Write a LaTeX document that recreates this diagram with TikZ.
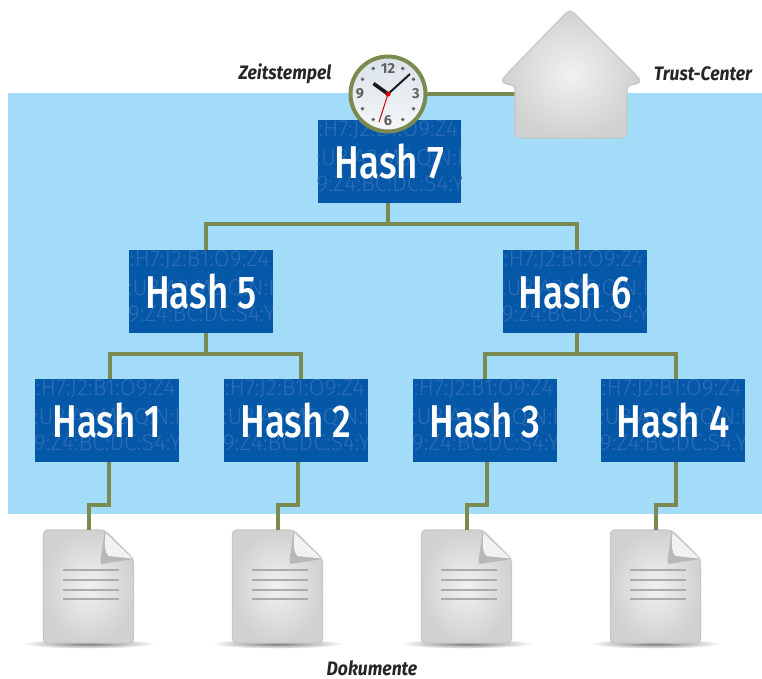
\documentclass[tikz,border=0pt]{standalone}
\usepackage{fontspec}
\usetikzlibrary{calc}
\setmainfont{Fira Sans}
\newfontfamily\hashfont[FakeStretch=0.8,UprightFont=*,BoldFont=* Medium]{Fira Sans}
\newfontfamily\labfont[FakeStretch=0.9]{Fira Sans}
\newfontfamily\bgfont[UprightFont=* Light]{Fira Sans}
\newfontfamily\numfont{Fira Sans}
\definecolor{hashblue}{HTML}{0557A8}
\definecolor{bgtext}{HTML}{2E6DB4}
\definecolor{sky}{HTML}{A3DCF8}
\definecolor{linkgreen}{HTML}{7B8A50}
\definecolor{iconedge}{HTML}{C6C7C7}
\definecolor{iconlight}{HTML}{F0F1F1}
\definecolor{icondark}{HTML}{D0D1D1}
\definecolor{docline}{HTML}{A9ABB0}
\definecolor{facetop}{HTML}{D9E2EA}
\definecolor{facebot}{HTML}{F6F7F8}
\tikzset{
  hashbox/.style={fill=hashblue,minimum width=143.5pt,minimum height=83pt,inner sep=0pt,text=white,
    font=\hashfont\bfseries\fontsize{46}{46}\selectfont},
  bgline/.style={text=bgtext,inner sep=0pt,anchor=west,font=\bgfont\fontsize{23}{23}\selectfont},
  link/.style={draw=linkgreen,line width=4pt},
  caption/.style={inner sep=0pt,font=\labfont\bfseries\itshape\fontsize{19.5}{19.5}\selectfont,text=black!85},
  icon/.style={draw=iconedge,line width=1.2pt,inner color=iconlight,outer color=icondark},
  clocknum/.style={inner sep=0pt,text=black!62,font=\numfont\bfseries\fontsize{14.5}{14.5}\selectfont},
}
\newcommand\hashnode[4]{%
  \node[hashbox,path picture={
    \coordinate (tl) at (path picture bounding box.north west);
    \node[bgline] at ([xshift=-1.5pt,yshift=-10pt]tl) {:H7:J2:B1:O9:Z4};
    \node[bgline] at ([xshift=-1.5pt,yshift=-39pt]tl) {:U8:A2:M5:Q:N:I};
    \node[bgline] at ([xshift=-1.5pt,yshift=-64pt]tl) {9:Z4:BC:DC:S4:Y};
  }] (#1) at (#2,#3) {#4};}
\newcommand\docicon[2]{%
  \begin{scope}[shift={(#2,0)}]
    \shade[inner color=black!55,outer color=white,shading=radial] (45,643.5) ellipse [x radius=66,y radius=5];
    \path[icon,rounded corners=4pt] (0,530) -- (61,530) -- (90,559) -- (90,643) -- (0,643) -- cycle;
    \fill[black!28] (61,532) -- (57,561) -- (58,564) -- (90,559) -- cycle;
    \fill[white!95!black] (62,533) .. controls (61,545) and (61,552) .. (65,556) -- (89,558.5) -- cycle;
    \foreach \yy in {570,579.5,589.5,599} \fill[docline] (19,\yy-1) rectangle (75,\yy+1);
    \coordinate (#1) at (45,530);
  \end{scope}}
\begin{document}
\begin{tikzpicture}[x=1pt,y=-1pt]
\useasboundingbox (0,0) rectangle (762,678);
\fill[white] (0,0) rectangle (762,678);
\fill[sky] (8,93) rectangle (762,514);

% icons
\docicon{d1}{43.5}
\docicon{d2}{232.5}
\docicon{d3}{421.5}
\docicon{d4}{610.5}

% hash nodes
\hashnode{h7}{389.5}{161.5}{Hash 7}
\hashnode{h5}{201}{291.5}{Hash 5}
\hashnode{h6}{575}{291.5}{Hash 6}
\hashnode{h1}{107}{420.5}{Hash 1}
\hashnode{h2}{296}{420.5}{Hash 2}
\hashnode{h3}{485}{420.5}{Hash 3}
\hashnode{h4}{673}{420.5}{Hash 4}

% connectors
\coordinate (j7) at (388,224);
\coordinate (j5) at (206,354);
\coordinate (j6) at (577,354);
\draw[link] (j7 |- h7.south) -- (j7);
\draw[link] (j5 |- h5.north) |- (j7) -| (j6 |- h6.north);
\draw[link] (j5 |- h5.south) -- (j5);
\draw[link] (j6 |- h6.south) -- (j6);
\draw[link] (110,379) |- (j5) -| (301,379);
\draw[link] (485,379) |- (j6) -| (676,379);
\foreach \h/\d/\hx in {h1/d1/109,h2/d2/298,h3/d3/487,h4/d4/676}{
  \coordinate (m) at (\hx,505);
  \draw[link] (\hx,462) -- (m) -| (\d);
}

% house
\coordinate (houseport) at (515,94);
\coordinate (clockc) at (388,94);
\draw[link] (clockc) -- (houseport);
\path[icon,rounded corners=5pt] (570,9) -- (639,78) -- (639,84.5) -- (627,84.5) -- (627,138) -- (515,138) -- (515,84.5) -- (503,84.5) -- (503,78) -- cycle;

% clock
\node[circle,minimum size=75pt,inner sep=0pt,draw=linkgreen,line width=4pt,top color=facetop,bottom color=facebot] (clock) at (clockc) {};
\foreach \a in {30,60,120,150,210,240,300,330}
  \fill[black!62] (clock.center) ++(\a:29.5pt) circle (1.9pt);
\node[clocknum] at ($(clockc)+(0,-26)$) {12};
\node[clocknum] at ($(clockc)+(0,27)$) {6};
\node[clocknum] at ($(clockc)+(-28,0)$) {9};
\node[clocknum] at ($(clockc)+(28,0)$) {3};
\draw[black!90,line width=3.6pt] (clockc) -- (373.5,83.5);
\draw[black!90,line width=2pt] (clockc) -- (410,74);
\draw[red!80!black,line width=1pt] (clockc) -- (379,122);
\fill[red!80!black] (clockc) circle (2.6pt);

% captions
\node[caption] (zeit) at (285,74) {Zeitstempel};
\node[caption] (trust) at (703,74) {Trust-Center};
\node[caption] (doku) at (372,668.5) {Dokumente};
\end{tikzpicture}
\end{document}
